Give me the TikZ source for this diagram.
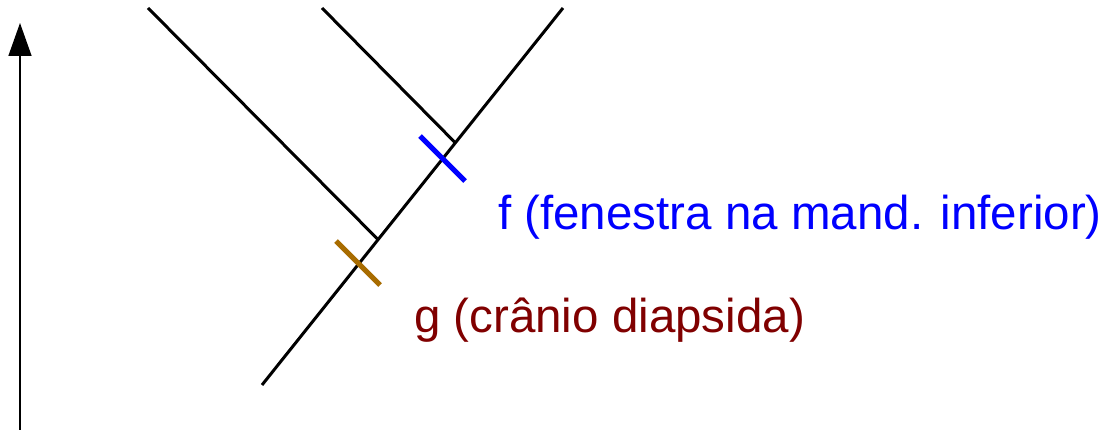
\documentclass[tikz,border=0pt]{standalone}
\usepackage{fontspec}
\setmainfont{Liberation Sans}
\usetikzlibrary{arrows.meta}
\definecolor{tickbrown}{RGB}{168,108,0}
\definecolor{labelred}{RGB}{128,0,0}
\definecolor{labelblue}{RGB}{0,0,255}
\begin{document}
\begin{tikzpicture}[x=1pt,y=-1pt,
  branch/.style={line width=3pt,black},
  synapo/.style={line width=5pt},
  label/.style={anchor=base west,inner sep=0pt,font=\fontsize{47.5}{50}\selectfont}]
\useasboundingbox (0,0) rectangle (1117,430);
% time axis
\coordinate (axbot) at (20,430);
\coordinate (axtop) at (20,23);
\draw[line width=1.5pt,-{Triangle[width=23pt,length=33pt]}] (axbot) -- (axtop);
% tree
\coordinate (root) at (262,385);
\coordinate (tipR) at (563,8);
\coordinate (tipL) at (148,8);
\coordinate (tipM) at (322,8);
\coordinate (nodeA) at (378.5,240);
\coordinate (nodeB) at (455.5,143);
\draw[branch] (root) -- (tipR);
\draw[branch] (tipL) -- (nodeA);
\draw[branch] (tipM) -- (nodeB);
% synapomorphies
\coordinate (f1) at (420,136);
\coordinate (f2) at (465,181);
\coordinate (g1) at (336,241);
\coordinate (g2) at (380,285);
\draw[synapo,labelblue] (f1) -- (f2);
\draw[synapo,tickbrown] (g1) -- (g2);
% labels
\node[label,text=labelblue] (flab) at (498,230) {f (fenestra na mand. inferior)};
\node[label,text=labelred] (glab) at (414,333) {g (crânio diapsida)};
\end{tikzpicture}
\end{document}
